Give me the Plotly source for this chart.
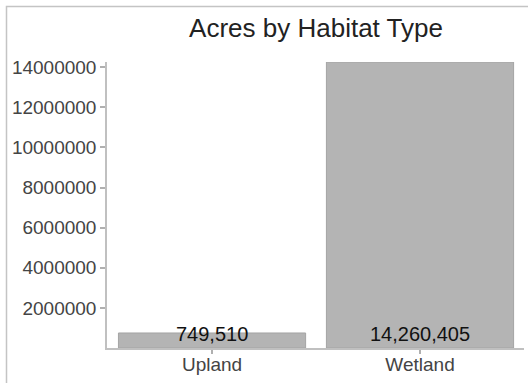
import plotly.graph_objects as go

categories = ["Upland", "Wetland"]
acres = [749510, 14260405]
value_labels = ["749,510", "14,260,405"]
y_tickvals = [2000000, 4000000, 6000000, 8000000, 10000000, 12000000, 14000000]
title_text = "Acres by Habitat Type"

W, H = 528, 383
L, R, T, B = 107, 4, 62, 35
pw, ph = W - L - R, H - T - B

def px_x(p):
    return (p - L) / pw

def px_y(p):
    return (H - B - p) / ph

font_family = "Liberation Sans, Arial, Helvetica, sans-serif"

fig = go.Figure()
fig.add_trace(go.Bar(
    x=categories, y=acres,
    marker=dict(color="#b4b4b4", line=dict(color="#a4a4a4", width=1)),
    hoverinfo="skip",
))

for c, v, lab in zip(categories, acres, value_labels):
    fig.add_annotation(x=c, y=0, text=lab, showarrow=False,
                       yanchor="bottom", yshift=1,
                       font=dict(family=font_family, size=20, color="#111111"))

# outer frame
fig.add_shape(type="rect", xref="paper", yref="paper",
              x0=px_x(6.5), x1=px_x(560), y0=px_y(420), y1=px_y(6.5),
              line=dict(color="#c4c4c4", width=1.5), fillcolor="rgba(0,0,0,0)", layer="below")

fig.update_layout(
    width=W, height=H,
    margin=dict(l=L, r=R, t=T, b=B),
    paper_bgcolor="white", plot_bgcolor="white",
    bargap=0.1,
    showlegend=False,
    title=dict(text=title_text, x=px_x(316), xanchor="center", xref="paper",
               y=1 - 28 / H, yanchor="middle",
               font=dict(family=font_family, size=26, color="#222222")),
    xaxis=dict(range=[-0.505, 1.5], showline=True, linecolor="#c0c0c0", linewidth=1.5,
               ticks="outside", ticklen=4, tickcolor="#b0b0b0", tickwidth=1.5,
               ticklabelstandoff=-6,
               showgrid=False, zeroline=False,
               tickfont=dict(family=font_family, size=19, color="#444444")),
    yaxis=dict(range=[0, max(acres)], showline=True, linecolor="#c0c0c0", linewidth=1.5,
               ticks="outside", ticklen=5, tickcolor="#b0b0b0", tickwidth=1.5,
               tickvals=y_tickvals, tickformat="d",
               showgrid=False, zeroline=False,
               tickfont=dict(family=font_family, size=19, color="#444444")),
)

fig.write_html("out.html")
